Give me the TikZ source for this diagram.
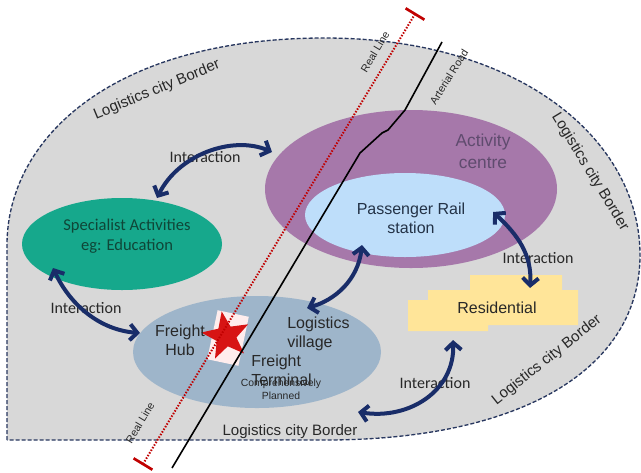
\documentclass[tikz,border=0pt]{standalone}
\usepackage{fontspec}
\setmainfont{Liberation Sans}
\newfontfamily\calibfont{Carlito}
\usetikzlibrary{shapes.geometric,arrows.meta}
\definecolor{bggrey}{RGB}{216,216,216}
\definecolor{bordernavy}{RGB}{40,55,95}
\definecolor{actpurple}{RGB}{166,120,170}
\definecolor{railblue}{RGB}{190,222,250}
\definecolor{specteal}{RGB}{22,168,140}
\definecolor{villblue}{RGB}{158,181,202}
\definecolor{resyellow}{RGB}{255,229,153}
\definecolor{arrnavy}{RGB}{25,45,105}
\definecolor{railred}{RGB}{192,0,0}
\definecolor{starred}{RGB}{215,20,20}
\definecolor{acttext}{RGB}{95,75,110}
\definecolor{railtext}{RGB}{35,50,70}
\definecolor{spectext}{RGB}{15,70,55}
\definecolor{darktext}{RGB}{40,40,40}
\begin{document}
\begin{tikzpicture}[x=0.75pt,y=-0.75pt,
  blob/.style={ellipse, inner sep=0pt, draw=none},
  interarrow/.style={line width=3pt, draw=arrnavy, {Straight Barb[length=5.5pt,width=12pt]}-{Straight Barb[length=5.5pt,width=12pt]}},
  citylbl/.style={font=\fontsize{11.3}{13}\selectfont, text=darktext, inner sep=0pt},
  interlbl/.style={font=\calibfont\fontsize{12}{14}\selectfont, text=darktext, inner sep=0pt},
  zonelbl/.style={font=\fontsize{12}{14.5}\selectfont, text=darktext, align=center, inner sep=0pt},
  smalllbl/.style={font=\fontsize{8}{9.5}\selectfont, text=darktext, inner sep=0pt},
  railtick/.style={draw=railred, line width=2pt}]
\useasboundingbox (0,0) rectangle (641,472);
% logistics city region
\path[fill=bggrey, draw=bordernavy, line width=1pt, dash pattern=on 3pt off 1.5pt]
  (7,440) -- (7,245) .. controls (7,140) and (110,38) .. (325,38)
  .. controls (520,38) and (640,140) .. (640,255)
  .. controls (640,370) and (520,440) .. (325,440) -- cycle;
% zones
\node[blob, fill=actpurple, minimum width=292*0.75pt, minimum height=158*0.75pt] (act) at (411,189) {};
\node[blob, fill=railblue, minimum width=200*0.75pt, minimum height=84*0.75pt] (prs) at (405,215) {};
\node[blob, fill=specteal, minimum width=200*0.75pt, minimum height=92*0.75pt] (spec) at (122,244) {};
\node[blob, fill=villblue, minimum width=248*0.75pt, minimum height=112*0.75pt] (vill) at (257,352) {};
\fill[resyellow] (408,300) -- (428,300) -- (428,290) -- (470,290) -- (470,275) -- (562,275) -- (562,290)
  -- (578,290) -- (578,325) -- (488,325) -- (488,331) -- (408,331) -- cycle;
% freight terminal marker
\fill[white!93!red] (217.6,310.2) -- (248.8,316.8) -- (238.4,365.8) -- (207.2,359.2) -- cycle;
\fill[starred] (221.7,311.4) -- (230.6,326.6) -- (248.1,324.3) -- (236.4,337.5) -- (244.0,353.4)
  -- (227.8,346.3) -- (215.0,358.5) -- (216.7,340.9) -- (201.2,332.5) -- (218.4,328.7) -- cycle;
% rail line
\coordinate (railS) at (143,464);
\coordinate (railN) at (415,14);
\draw[railred, line width=1.5pt, dash pattern=on 1.1pt off 1.2pt] (railS) -- (railN);
\draw[railtick] (133.6,458.3) -- (152.4,469.7);
\draw[railtick] (405.6,8.3) -- (424.4,19.7);
% arterial road
\coordinate (roadS) at (172,468);
\coordinate (roadN) at (442,42);
\draw[black, line width=1.2pt] (roadS) -- (360,153) -- (382,133) -- (388,130) -- (405,110) -- (roadN);
% city border labels
\node[citylbl, rotate=22.5] (b1) at (157,90) {Logistics city Border};
\node[citylbl, rotate=-58.7] (b2) at (590,172) {Logistics city Border};
\node[citylbl, rotate=38.5] (b3) at (547,360) {Logistics city Border};
\node[citylbl] (b4) at (290,432) {Logistics city Border};
% line labels
\node[smalllbl, rotate=59] (rl1) at (375,52) {Real Line};
\node[smalllbl, rotate=59] (rl2) at (140,423) {Real Line};
\node[smalllbl, rotate=58] (ar) at (449,77) {Arterial Road};
% zone labels
\node[zonelbl, text=acttext, font=\fontsize{13}{16.5}\selectfont] (actlbl) at (483,151) {Activity\\centre};
\node[zonelbl, text=railtext] (prslbl) at (411,218) {Passenger Rail\\station};
\node[zonelbl, text=spectext, font=\calibfont\fontsize{12.4}{15.2}\selectfont] (speclbl) at (127,236) {Specialist Activities\\eg: Education};
\node[zonelbl] (hub) at (180,340) {Freight\\Hub};
\node[zonelbl, align=left, anchor=west] (vlbl) at (287,334) {Logistics\\village};
\node[zonelbl, align=left, anchor=west] (term) at (251,370.5) {Freight\\Terminal};
\node[smalllbl, align=center, font=\fontsize{7.8}{9.8}\selectfont] (plan) at (281,389) {Comprehensively\\Planned};
\node[zonelbl] (res) at (497,308) {Residential};
% interaction labels
\node[interlbl] (i1) at (205,157) {Interaction};
\node[interlbl] (i2) at (86,308) {Interaction};
\node[interlbl] (i3) at (538,258) {Interaction};
\node[interlbl] (i4) at (435,383) {Interaction};
% interaction arrows
\coordinate (a1s) at (157,198); \coordinate (a1e) at (272,152);
\coordinate (a2s) at (53,268);  \coordinate (a2e) at (140,333);
\coordinate (a3s) at (362,245); \coordinate (a3e) at (307,308);
\coordinate (a4s) at (493,212); \coordinate (a4e) at (530,288);
\coordinate (a5s) at (453,340); \coordinate (a5e) at (358,412);
\draw[interarrow] (a1s) .. controls (178,155) and (232,135) .. (a1e);
\draw[interarrow] (a2s) .. controls (70,305) and (100,330) .. (a2e);
\draw[interarrow] (a3s) .. controls (358,280) and (335,300) .. (a3e);
\draw[interarrow] (a4s) .. controls (518,235) and (532,255) .. (a4e);
\draw[interarrow] (a5s) .. controls (455,390) and (410,420) .. (a5e);
\end{tikzpicture}
\end{document}
